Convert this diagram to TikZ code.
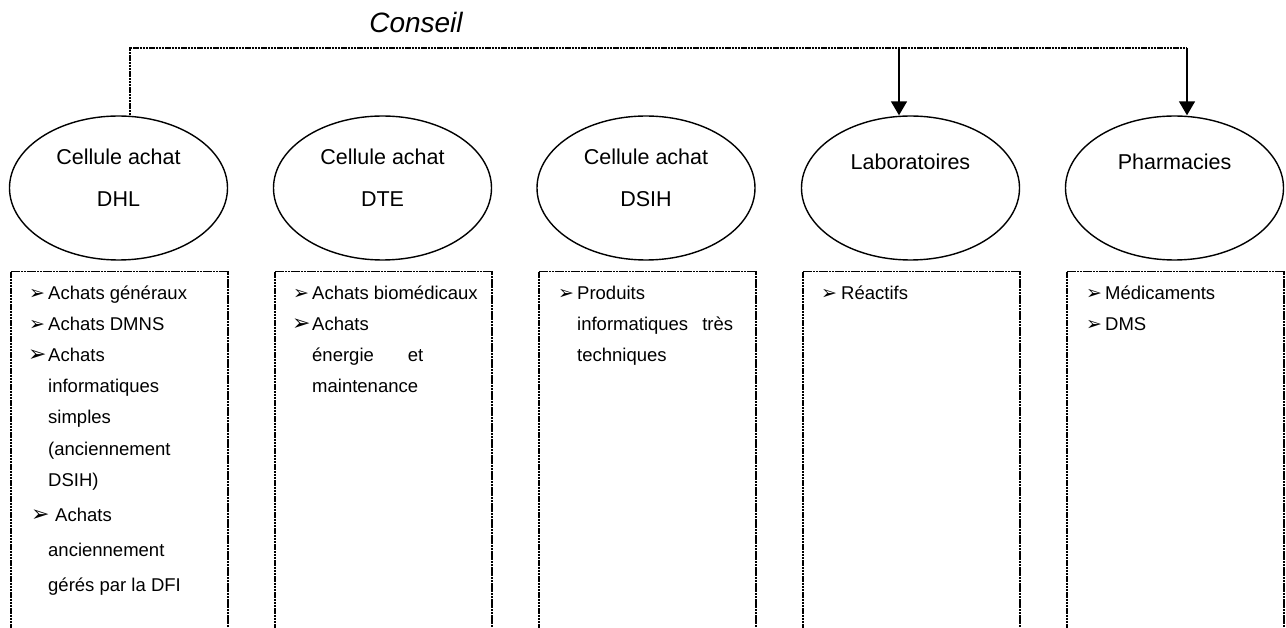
\documentclass[tikz,border=0pt]{standalone}
\usepackage{fontspec}
\setmainfont{Liberation Sans}
\newfontfamily\dvs{DejaVu Sans}
\usetikzlibrary{shapes.geometric,arrows.meta}
\begin{document}
\begin{tikzpicture}[x=1pt,y=-1pt,
 ell/.style={ellipse,draw,line width=1.4pt,minimum width=218pt,minimum height=144pt,inner sep=0pt},
 boxn/.style={draw,dash pattern=on 2.5pt off 0.7pt,line width=1.5pt,minimum width=217pt,minimum height=420pt,anchor=north west,inner sep=0pt},
 dline/.style={dash pattern=on 2.5pt off 0.7pt,line width=1.5pt},
 arr/.style={line width=1.6pt,-{Triangle[width=16pt,length=14pt]}},
 etxt/.style={font=\fontsize{21.5}{24}\selectfont,anchor=base,inner sep=0pt},
 btxt/.style={font=\fontsize{18.5}{20}\selectfont,anchor=base west,inner sep=0pt},
 bul/.style={font=\dvs\fontsize{19}{19}\selectfont,anchor=base west,inner sep=0pt},
 bulbig/.style={font=\dvs\fontsize{22}{22}\selectfont,anchor=base west,inner sep=0pt},
]
\clip (0,0) rectangle (1286,628);
% title
\node[font=\itshape\fontsize{28}{30}\selectfont,anchor=base,inner sep=0pt] (conseil) at (416,33) {Conseil};
% ellipses
\node[ell] (dhl) at (118.5,188) {};
\node[ell] (dte) at (382.5,188) {};
\node[ell] (dsih) at (646,188) {};
\node[ell] (lab) at (910.5,188) {};
\node[ell] (pha) at (1174.5,188) {};
\node[etxt] (dhlA) at (118.5,165) {Cellule achat};
\node[etxt] (dhlB) at (118.5,207) {DHL};
\node[etxt] (dteA) at (382.5,165) {Cellule achat};
\node[etxt] (dteB) at (382.5,207) {DTE};
\node[etxt] (dsihA) at (646,165) {Cellule achat};
\node[etxt] (dsihB) at (646,207) {DSIH};
\node[etxt] (labA) at (910.5,170) {Laboratoires};
\node[etxt] (phaA) at (1174.5,170) {Pharmacies};
% connectors
\coordinate (cL) at (130,48);
\coordinate (cM) at (899,48);
\coordinate (cR) at (1187,48);
\draw[dline] (dhl.north -| cL) -- (cL) -- (cR);
\draw[arr] (cM) -- (cM |- lab.north);
\draw[arr] (cR) -- (cR |- pha.north);
% boxes
\node[boxn] (b1) at (10,271) {};
\node[boxn] (b2) at (274,271) {};
\node[boxn] (b3) at (538,271) {};
\node[boxn] (b4) at (802,271) {};
\node[boxn] (b5) at (1066,271) {};
% box 1
\node[bul] (p11) at (29,300) {➢};
\node[btxt] (t11) at (48,300) {Achats généraux};
\node[bul] (p12) at (29,331) {➢};
\node[btxt] (t12) at (48,331) {Achats DMNS};
\node[bulbig] (p13) at (28,362) {➢};
\node[btxt] (t13) at (48,362) {Achats};
\node[btxt] (t14) at (48,393) {informatiques};
\node[btxt] (t15) at (48,424) {simples};
\node[btxt] (t16) at (48,455) {(anciennement};
\node[btxt] (t17) at (48,486) {DSIH)};
\node[bulbig] (p18) at (31,521) {➢};
\node[btxt] (t18) at (55,521) {Achats};
\node[btxt] (t19) at (48,556) {anciennement};
\node[btxt] (t110) at (48,591) {gérés par la DFI};
% box 2
\node[bul] (p21) at (293,300) {➢};
\node[btxt] (t21) at (312,300) {Achats biomédicaux};
\node[bulbig] (p22) at (292,331) {➢};
\node[btxt] (t22) at (312,331) {Achats};
\node[btxt] (t23) at (312,362) {\hbox to 111pt{énergie\hfill et}};
\node[btxt] (t24) at (312,393) {maintenance};
% box 3
\node[bul] (p31) at (558,300) {➢};
\node[btxt] (t31) at (577,300) {Produits};
\node[btxt] (t32) at (577,331) {\hbox to 156pt{informatiques\hfill très}};
\node[btxt] (t33) at (577,362) {techniques};
% box 4
\node[bul] (p41) at (821,300) {➢};
\node[btxt] (t41) at (841,300) {Réactifs};
% box 5
\node[bul] (p51) at (1086,300) {➢};
\node[btxt] (t51) at (1105,300) {Médicaments};
\node[bul] (p52) at (1086,331) {➢};
\node[btxt] (t52) at (1105,331) {DMS};
\end{tikzpicture}
\end{document}
